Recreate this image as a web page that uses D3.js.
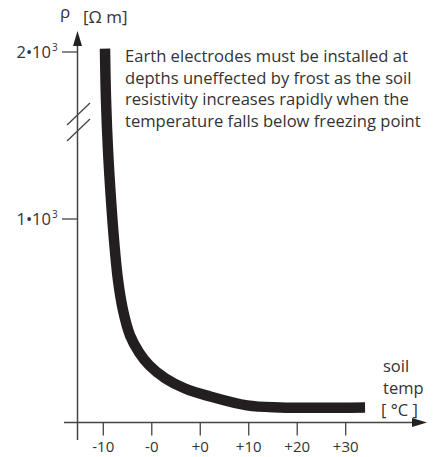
<!DOCTYPE html>
<html><head><meta charset="utf-8">
<script src="https://cdn.jsdelivr.net/npm/d3@7"></script>
<style>body{margin:0;background:#fff}svg{display:block}text{font-family:"Open Sans","Noto Sans",sans-serif;fill:#333}</style>
</head><body>
<script>
// x tick labels (equally spaced positions, index 0..5)
const xTickLabels = ["-10", "-0", "+0", "+10", "+20", "+30"];
const yTickValues = [1000, 2000];
const yTickLabels = ["1•10", "2•10"];
// curve: position along the temperature axis (tick index units) and resistivity (Ω m)
const curvePos = [0.035, 0.056, 0.097, 0.159, 0.221, 0.303, 0.406, 0.550, 0.737, 0.950, 1.280, 1.685, 2.201, 2.965, 3.645, 5.399];
const curveRho = [2020, 1713, 1413, 1114, 897, 700, 552, 429, 345, 281, 217, 167, 128, 84, 74, 74];
const noteLines = ["Earth electrodes must be installed at", "depths uneffected by frost as the soil", "resistivity increases rapidly when the", "temperature falls below freezing point"];

const W = 435, H = 457;
const svg = d3.select("body").append("svg").attr("width", W).attr("height", H);
const ax = 77.5, ay = 422.5;
const x = d3.scaleLinear().domain([0, 5]).range([103.3, 345.7]);
const y = d3.scaleLinear().domain([0, 1000, 2000]).range([ay, 219, 52]);
const axisCol = "#444";

// axes lines
svg.append("line").attr("x1", ax).attr("x2", ax).attr("y1", 440).attr("y2", 40).attr("stroke", axisCol).attr("stroke-width", 1.5);
svg.append("line").attr("x1", 64).attr("x2", 418).attr("y1", ay).attr("y2", ay).attr("stroke", axisCol).attr("stroke-width", 1.5);
svg.append("path").attr("d", `M${ax},31 L${ax-4.5},46 L${ax+4.5},46 Z`).attr("fill", "#222");
svg.append("path").attr("d", `M427,${ay} L412,${ay-4.5} L412,${ay+4.5} Z`).attr("fill", "#222");

// break marks
[[67,125,90,103],[67,141,90,119]].forEach(b=>{
  svg.append("line").attr("x1",b[0]).attr("y1",b[1]).attr("x2",b[2]).attr("y2",b[3]).attr("stroke",axisCol).attr("stroke-width",1.3);
});

// x ticks
xTickLabels.forEach((l,i)=>{
  svg.append("line").attr("x1",x(i)).attr("x2",x(i)).attr("y1",ay).attr("y2",ay+13).attr("stroke",axisCol).attr("stroke-width",1.3);
  svg.append("text").attr("x",x(i)).attr("y",452).attr("text-anchor","middle").attr("font-size",15).text(l);
});
// y ticks
yTickValues.forEach((v,i)=>{
  svg.append("line").attr("x1",62).attr("x2",ax).attr("y1",y(v)).attr("y2",y(v)).attr("stroke",axisCol).attr("stroke-width",1.3);
  svg.append("text").attr("x",51).attr("y",y(v)+6).attr("text-anchor","end").attr("font-size",16.5).text(yTickLabels[i]);
  svg.append("text").attr("x",52).attr("y",y(v)-1).attr("text-anchor","start").attr("font-size",10).text("3");
});

// axis titles
svg.append("text").attr("x",60).attr("y",18).attr("font-size",17).text("ρ");
svg.append("text").attr("x",83).attr("y",23).attr("font-size",17).text("[Ω m]");
svg.append("text").attr("x",383).attr("y",372).attr("font-size",16.5).text("soil");
svg.append("text").attr("x",383).attr("y",394).attr("font-size",16.5).text("temp");
svg.append("text").attr("x",381).attr("y",416).attr("font-size",16.5).attr("xml:space","preserve").text("[ °C ]");

// curve
const pts = curvePos.map((p,i)=>[p, curveRho[i]]);
svg.append("path").datum(pts)
  .attr("d", d3.line().x(d=>x(d[0])).y(d=>y(d[1])).curve(d3.curveCatmullRom.alpha(0.5)))
  .attr("fill","none").attr("stroke","#231f20").attr("stroke-width",10.5);

// note
noteLines.forEach((l,i)=>{
  svg.append("text").attr("x",125).attr("y",62+i*21.7).attr("font-size",16.6).text(l);
});
</script>
</body></html>
